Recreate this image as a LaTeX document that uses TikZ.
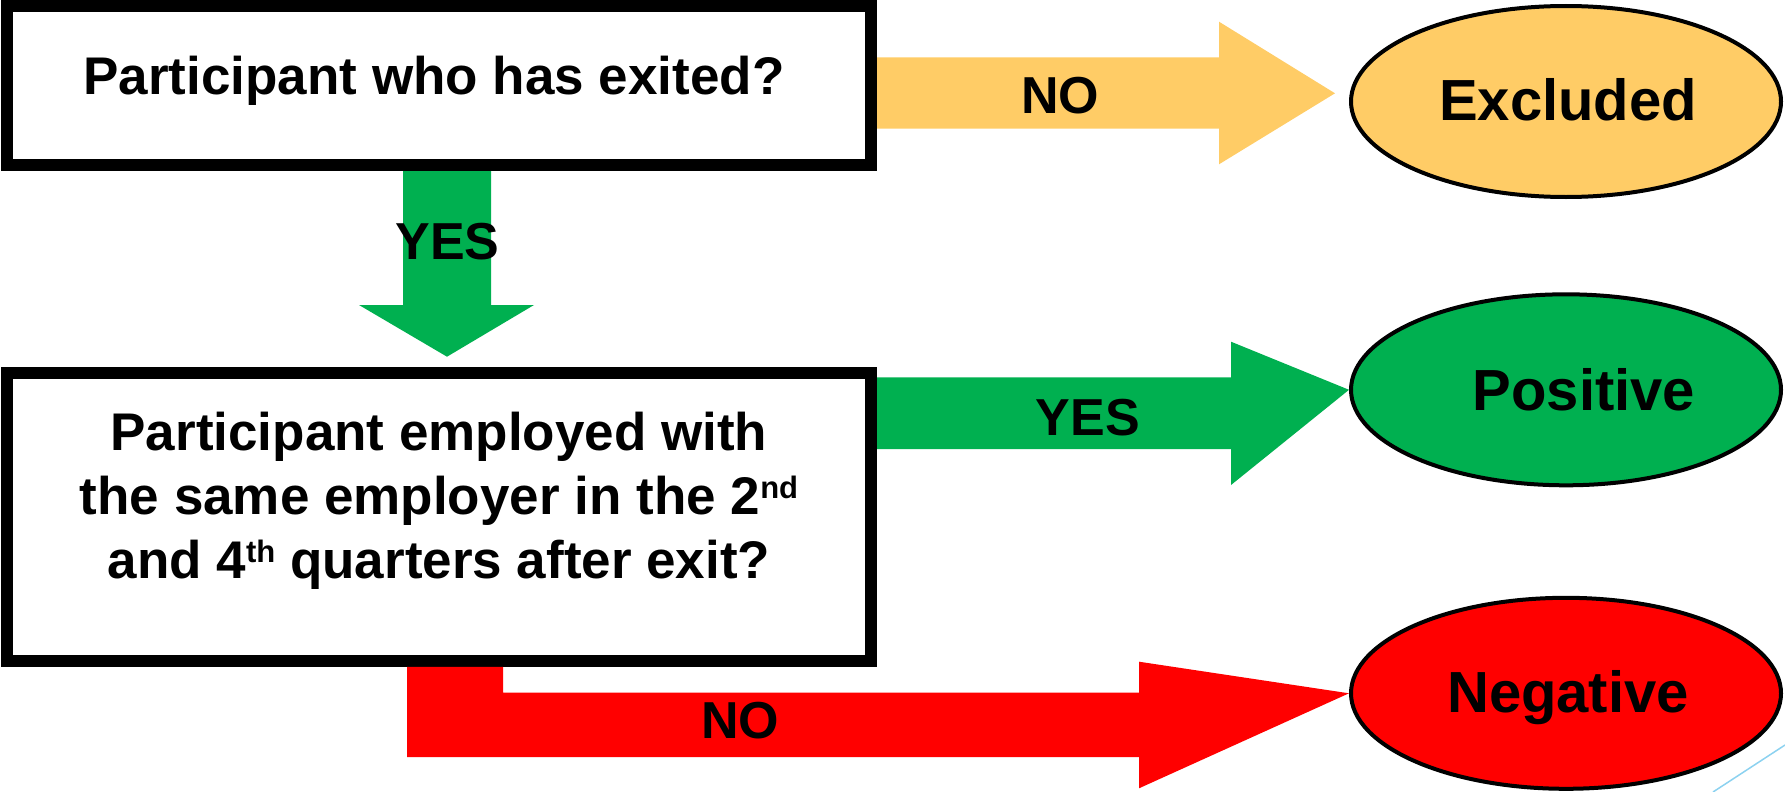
\documentclass[tikz,border=0pt]{standalone}
\usepackage{fontspec}
\setmainfont{Liberation Sans}
\usetikzlibrary{shapes.geometric}
\definecolor{exclfill}{RGB}{255,204,102}
\definecolor{posfill}{RGB}{0,176,80}
\definecolor{negfill}{RGB}{255,0,0}
\definecolor{skyline}{RGB}{140,210,240}
% small raised ordinal suffix
\newcommand\ordsuf[1]{\raisebox{16pt}{\fontsize{31}{31}\selectfont #1}}

\begin{document}
\begin{tikzpicture}[x=1pt,y=-1pt,
  question/.style={draw=black,fill=white,line width=12pt,minimum width=864pt,inner sep=0pt},
  outcome/.style={ellipse,draw=black,line width=4pt,minimum width=430pt,minimum height=191pt,inner sep=0pt},
  qtext/.style={font=\fontsize{53}{63.8}\selectfont\bfseries,inner sep=0pt,align=center},
  otext/.style={font=\fontsize{58}{60}\selectfont\bfseries,inner sep=0pt,anchor=base},
  lbl/.style={font=\fontsize{52}{60}\selectfont\bfseries,inner sep=0pt,anchor=base},
]
\useasboundingbox (0,0) rectangle (1785,792);

% decision boxes
\node[question,minimum height=159pt] (q1) at (439,85.5) {};
\node[question,minimum height=287.5pt] (q2) at (439,517.05) {};
\node[qtext,anchor=base] (q1t) at (434,94.3) {Participant who has exited?};
\node[qtext,anchor=north] (q2t) at (439,397.7) {\rule{0pt}{53pt}Participant employed with\\
  the same employer in the 2\ordsuf{nd}\\
  and 4\ordsuf{th} quarters after exit?};

% outcomes
\node[outcome,fill=exclfill] (ex) at (1566,101.5) {};
\node[outcome,fill=posfill] (po) at (1566,389.8) {};
\node[outcome,fill=negfill] (ng) at (1566,693.3) {};
\node[otext] (ext) at (1568,120.7) {Excluded};
\node[otext] (pot) at (1584,410) {Positive};
\node[otext] (ngt) at (1568,712.3) {Negative};

% block arrows
\fill[exclfill] (q1.east |- 0,57.3) -- (1219,57.3) -- (1219,21.7) -- (1335,93.3)
  -- (1219,164.3) -- (1219,128.7) -- (q1.east |- 0,128.7) -- cycle;
\fill[posfill] (q1.south -| 403,0) -- (q1.south -| 491,0) -- (491,305) -- (534,305)
  -- (447,356.7) -- (359,305) -- (403,305) -- cycle;
\fill[posfill] (q2.east |- 0,377.3) -- (1231,377.3) -- (1231,341.7) -- (po.west)
  -- (1231,485) -- (1231,449) -- (q2.east |- 0,449) -- cycle;
\fill[negfill] (q2.south -| 407,0) -- (q2.south -| 503,0) -- (503,692.7) -- (1139,692.7)
  -- (1139,661.7) -- (ng.west) -- (1139,788.3) -- (1139,757) -- (407,757) -- cycle;

% arrow labels
\node[lbl] (l1) at (1060,113.3) {NO};
\node[lbl] (l2) at (447.5,259.3) {YES};
\node[lbl] (l3) at (1088,435) {YES};
\node[lbl] (l4) at (740,738.3) {NO};

% corner accent line
\draw[skyline,line width=1.5pt] (1785,745) -- (1713,792);
\end{tikzpicture}
\end{document}
